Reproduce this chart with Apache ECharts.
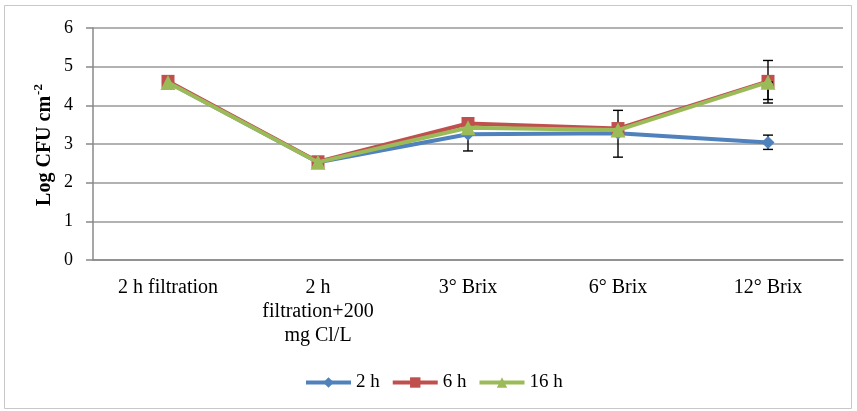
<!DOCTYPE html>
<html>
<head>
<meta charset="utf-8">
<script src="https://cdn.jsdelivr.net/npm/echarts@6/dist/echarts.min.js"></script>
<style>
  html, body { margin: 0; padding: 0; background: #fff; }
  #chart { width: 857px; height: 411px; }
</style>
</head>
<body>
<div id="chart"></div>
<script>
// Treatments along the x axis
const categories = ['2 h filtration', '2 h\nfiltration+200\nmg Cl/L', '3° Brix', '6° Brix', '12° Brix'];
// Log CFU cm-2 per contact time
const seriesNames = ['2 h', '6 h', '16 h'];
const values2h  = [4.60, 2.53, 3.25, 3.28, 3.04];
const values6h  = [4.62, 2.54, 3.53, 3.40, 4.62];
const values16h = [4.59, 2.53, 3.42, 3.36, 4.60];
// Error bars: [category index, lower, upper]
const errors2h  = [[2, 2.82, 3.68], [3, 2.66, 3.87], [4, 2.86, 3.23]];
const errors6h  = [[4, 4.06, 5.16]];
const errors16h = [[4, 4.15, 4.60]];
const yTicks = [0, 1, 2, 3, 4, 5, 6];

const colors = ['#4F81BD', '#C0504D', '#9BBB59'];
const serif = '"Liberation Serif", "Times New Roman", serif';

function errorSeries(data, z) {
  return {
    type: 'custom',
    z: z,
    silent: true,
    renderItem: function (params, api) {
      const lo = api.coord([api.value(0), api.value(1)]);
      const hi = api.coord([api.value(0), api.value(2)]);
      const cap = 5;
      const style = { stroke: '#000', lineWidth: 1.4 };
      return {
        type: 'group',
        children: [
          { type: 'line', shape: { x1: lo[0], y1: lo[1], x2: hi[0], y2: hi[1] }, style: style },
          { type: 'line', shape: { x1: lo[0] - cap, y1: lo[1], x2: lo[0] + cap, y2: lo[1] }, style: style },
          { type: 'line', shape: { x1: hi[0] - cap, y1: hi[1], x2: hi[0] + cap, y2: hi[1] }, style: style }
        ]
      };
    },
    encode: { x: 0, y: [1, 2] },
    data: data
  };
}

const chart = echarts.init(document.getElementById('chart'));
chart.setOption({
  animation: false,
  backgroundColor: '#fff',
  color: colors,
  graphic: [{
    type: 'rect',
    shape: { x: 4.5, y: 5.5, width: 847, height: 403 },
    style: { fill: 'none', stroke: '#c8c8c8', lineWidth: 1 },
    silent: true
  }, {
    // y-axis title, drawn rotated so the superscript can be styled
    type: 'text',
    x: 45,
    y: 145,
    rotation: Math.PI / 2,
    silent: true,
    style: {
      text: '{a|Log CFU cm}{s|-2}',
      align: 'center',
      verticalAlign: 'middle',
      rich: {
        a: { fontFamily: serif, fontSize: 20, fontWeight: 'bold', fill: '#000' },
        s: { fontFamily: serif, fontSize: 13, fontWeight: 'bold', fill: '#000', padding: [0, 0, 12, 1] }
      }
    }
  }],
  grid: { left: 93, right: 14, top: 28, bottom: 151 },
  legend: {
    data: seriesNames,
    bottom: 14,
    left: 299,
    itemWidth: 45,
    itemHeight: 13,
    itemGap: 11,
    lineStyle: { width: 4 },
    textStyle: { fontFamily: serif, fontSize: 19, color: '#000' }
  },
  xAxis: {
    type: 'category',
    data: categories,
    boundaryGap: true,
    axisLine: { show: true, lineStyle: { color: '#888', width: 1.5 } },
    axisTick: { show: false },
    axisLabel: {
      interval: 0,
      margin: 16,
      color: '#000',
      fontFamily: serif,
      fontSize: 20,
      lineHeight: 24
    }
  },
  yAxis: {
    type: 'value',
    min: yTicks[0],
    max: yTicks[yTicks.length - 1],
    interval: 1,
    axisLine: { show: true, lineStyle: { color: '#888', width: 1.5 } },
    axisTick: { show: true, length: 7, lineStyle: { color: '#888', width: 1.5 } },
    splitLine: { show: true, lineStyle: { color: '#999', width: 1.5 } },
    axisLabel: { margin: 20, color: '#000', fontFamily: serif, fontSize: 18 }
  },
  series: [
    errorSeries(errors2h, 1),
    {
      name: seriesNames[0], type: 'line', z: 2, data: values2h,
      symbol: 'diamond', symbolSize: 13,
      lineStyle: { width: 4, color: colors[0] },
      itemStyle: { color: colors[0] }
    },
    errorSeries(errors6h, 3),
    {
      name: seriesNames[1], type: 'line', z: 4, data: values6h,
      symbol: 'rect', symbolSize: 13,
      lineStyle: { width: 4, color: colors[1] },
      itemStyle: { color: colors[1] }
    },
    errorSeries(errors16h, 5),
    {
      name: seriesNames[2], type: 'line', z: 6, data: values16h,
      symbol: 'triangle', symbolSize: 15,
      lineStyle: { width: 4, color: colors[2] },
      itemStyle: { color: colors[2] }
    }
  ]
});
</script>
</body>
</html>
